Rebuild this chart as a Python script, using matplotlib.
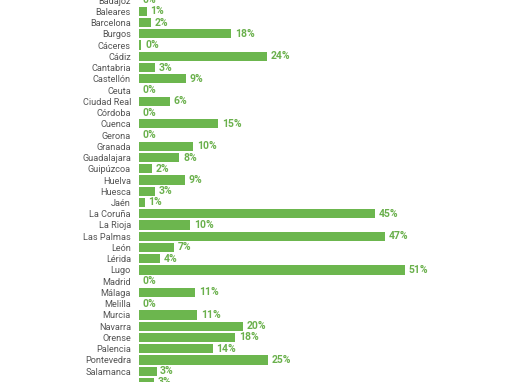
import matplotlib
matplotlib.use("Agg")
import matplotlib.pyplot as plt

provinces = ["Badajoz", "Baleares", "Barcelona", "Burgos", "Cáceres", "Cádiz", "Cantabria",
             "Castellón", "Ceuta", "Ciudad Real", "Córdoba", "Cuenca", "Gerona", "Granada",
             "Guadalajara", "Guipúzcoa", "Huelva", "Huesca", "Jaén", "La Coruña", "La Rioja",
             "Las Palmas", "León", "Lérida", "Lugo", "Madrid", "Málaga", "Melilla", "Murcia",
             "Navarra", "Orense", "Palencia", "Pontevedra", "Salamanca", "Segovia"]
values = [0.0, 1.4, 2.2, 17.6, 0.4, 24.4, 3.0,
          8.9, 0.0, 5.9, 0.0, 15.1, 0.0, 10.3,
          7.7, 2.4, 8.8, 3.0, 1.0, 45.2, 9.8,
          47.1, 6.6, 3.9, 50.8, 0.0, 10.7, 0.0, 11.1,
          19.9, 18.4, 14.1, 24.6, 3.3, 2.9]

bar_color = "#6cb64e"
label_color = "#6ab04c"

plt.rcParams['font.family'] = ['Roboto', 'DejaVu Sans']

fig = plt.figure(figsize=(5.10, 3.82), dpi=100)
ax = fig.add_axes([0.2731, 0.0, 0.7269, 1.0])

ypos = list(range(len(provinces)))
ax.barh(ypos, values, height=0.82, color=bar_color)
for y, v in zip(ypos, values):
    ax.text(v + 0.7, y, f"{round(v):d}%", va="center", ha="left",
            fontsize=7.5, fontweight="bold", color=label_color)

ax.set_yticks(ypos)
ax.set_yticklabels(provinces, fontsize=6.6, color="#555555")
ax.tick_params(axis="y", length=0, pad=6)
ax.set_xticks([])
ax.set_xlim(0, 71.0)
ax.set_ylim(33.96, -0.004)
for s in ax.spines.values():
    s.set_visible(False)

fig.savefig("out.png", dpi=100)
